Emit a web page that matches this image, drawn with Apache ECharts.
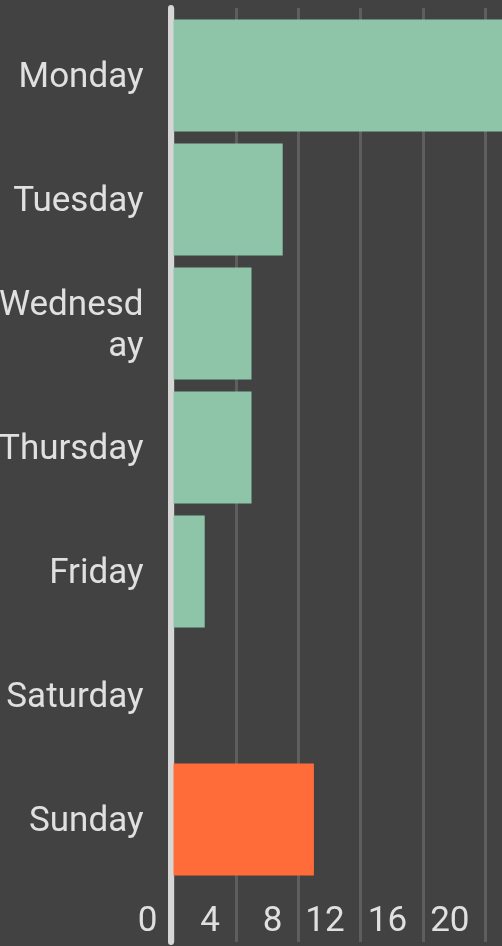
<!DOCTYPE html>
<html>
<head>
<meta charset="utf-8">
<title>Days</title>
<script src="https://cdn.jsdelivr.net/npm/echarts@6/dist/echarts.min.js"></script>
<style>
    html, body {margin: 0; padding: 0; background: #424242;}
    #chart {width: 502px; height: 946px;}
</style>
</head>
<body>
<div id="chart"></div>
<script>
var days = ['Monday', 'Tuesday', 'Wednesday', 'Thursday', 'Friday', 'Saturday', 'Sunday'];
var counts = [22, 7, 5, 5, 2, 0, 9];
var axisMax = 24;
var axisStep = 4;
var highlightDay = 'Sunday';

var textColor = '#e0e0e0';
var font = 'Roboto';

var chart = echarts.init(document.getElementById('chart'));

var hidden = {
    axisLine: {show: false}, axisTick: {show: false},
    axisLabel: {show: false}, splitLine: {show: false}
};

var option = {
    backgroundColor: '#424242',
    animation: false,
    grid: [
        // bars
        {left: 173.5, top: 13.5, width: axisMax * 15.6, height: 868, outerBoundsMode: 'none', containLabel: false},
        // gridlines, axis line and tick labels (taller than the bars)
        {left: 173.5, top: 8, width: axisMax * 15.6, bottom: 4, outerBoundsMode: 'none', containLabel: false},
        // day labels, sitting a touch lower than the bar centres
        {left: 173.5, top: 16.5, width: axisMax * 15.6, height: 868, outerBoundsMode: 'none', containLabel: false}
    ],
    xAxis: [
        Object.assign({type: 'value', gridIndex: 0, min: 0, max: axisMax, interval: axisStep}, hidden),
        {
            type: 'value', gridIndex: 1, min: 0, max: axisMax, interval: axisStep,
            axisLine: {show: false}, axisTick: {show: false},
            axisLabel: {
                inside: true, margin: 20, showMaxLabel: false,
                color: textColor, fontFamily: font, fontSize: 35,
                align: 'right', verticalAlign: 'middle', padding: [0, 16, 0, 0]
            },
            splitLine: {show: true, lineStyle: {color: '#5e5e5e', width: 3}}
        },
        Object.assign({type: 'value', gridIndex: 2, min: 0, max: axisMax}, hidden)
    ],
    yAxis: [
        Object.assign({type: 'category', gridIndex: 0, data: days, inverse: true}, hidden),
        {
            type: 'value', gridIndex: 1, offset: 2.5,
            axisLine: {show: true, onZero: false, lineStyle: {color: '#d6d6d6', width: 6}},
            axisTick: {show: false}, axisLabel: {show: false}, splitLine: {show: false}
        },
        {
            type: 'category', gridIndex: 2, data: days, inverse: true,
            axisLine: {show: false}, axisTick: {show: false}, splitLine: {show: false},
            axisLabel: {
                margin: 30, color: textColor, fontFamily: font, fontSize: 35,
                width: 148, overflow: 'breakAll', lineHeight: 41, align: 'right'
            }
        }
    ],
    series: [{
        type: 'bar', xAxisIndex: 0, yAxisIndex: 0,
        data: counts, barWidth: 112,
        itemStyle: {
            color: function (p) {
                return p.name === highlightDay ? '#ff6b39' : '#8ec5a9';
            }
        }
    }]
};

chart.setOption(option);
</script>
</body>
</html>
